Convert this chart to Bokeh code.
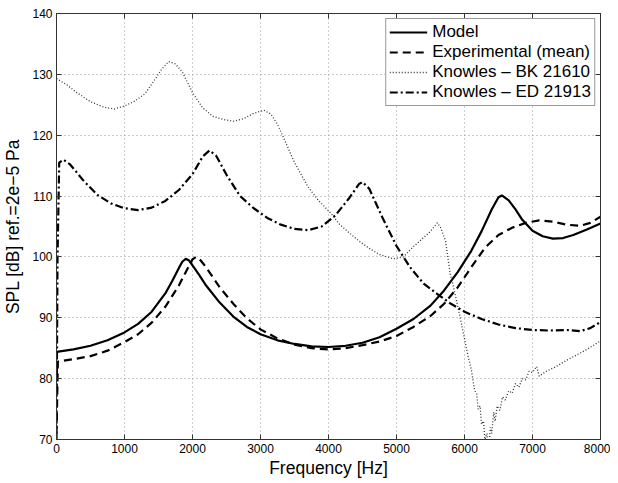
from bokeh.plotting import figure
from bokeh.models import LinearAxis, Range1d, FixedTicker, Legend, CustomJSTickFormatter
from bokeh.embed import file_html
from bokeh.resources import INLINE

# ---- data ----
model_f = [0, 250, 500, 750, 1000, 1200, 1400, 1600, 1700, 1800, 1850, 1900, 1950, 2000, 2100, 2200,
           2400, 2600, 2800, 3000, 3250, 3500, 3750, 4000, 4250, 4500, 4750, 5000, 5250, 5500, 5700,
           5900, 6100, 6250, 6400, 6500, 6550, 6650, 6750, 6850, 7000, 7150, 7300, 7450, 7600, 7800, 8000]
model_db = [84.4, 84.8, 85.4, 86.3, 87.6, 89.0, 91.0, 94.0, 96.0, 98.2, 99.2, 99.7, 99.4, 98.6, 97.0, 95.3,
            92.5, 90.2, 88.5, 87.3, 86.3, 85.7, 85.3, 85.2, 85.4, 85.9, 86.8, 88.2, 89.8, 92.0, 94.5,
            97.5, 101.0, 104.2, 107.8, 109.8, 110.1, 109.3, 107.8, 106.1, 104.3, 103.4, 103.0, 103.1, 103.6, 104.5, 105.5]

exp_f = [0, 20, 250, 500, 750, 1000, 1200, 1400, 1600, 1800, 1900, 2000, 2050, 2100, 2200, 2400, 2600,
         2800, 3000, 3250, 3500, 3750, 4000, 4250, 4500, 4750, 5000, 5250, 5500, 5700, 5900, 6100, 6300,
         6500, 6700, 6900, 7100, 7300, 7500, 7700, 7850, 8000]
exp_db = [71.0, 82.8, 83.2, 83.7, 84.6, 86.0, 87.3, 89.2, 91.8, 95.3, 97.5, 99.6, 100.0, 99.7, 98.3, 95.0, 92.3,
          89.9, 88.1, 86.6, 85.6, 85.0, 84.8, 85.0, 85.5, 86.1, 87.0, 88.5, 90.3, 92.3, 95.0, 98.3, 101.5,
          103.6, 104.8, 105.6, 106.0, 105.8, 105.3, 105.1, 105.6, 106.6]

bk_f = [0, 150, 300, 500, 700, 850, 1000, 1150, 1300, 1450, 1550, 1650, 1750, 1850, 2000, 2150, 2300, 2450,
        2600, 2750, 2900, 3050, 3150, 3250, 3350, 3500, 3700, 3850, 4050, 4150, 4300, 4450, 4600, 4750,
        4950, 5100, 5250, 5400, 5500, 5600, 5650, 5720, 5790, 5840, 5935, 6050, 6100, 6150, 6180, 6200,
        6230, 6250, 6280, 6300, 6330, 6360, 6380, 6400, 6430, 6450, 6480, 6520, 6560, 6600, 6650, 6700,
        6750, 6800, 6850, 6900, 6950, 7000, 7060, 7100, 7200, 7350, 7500, 7650, 7800, 8000]
bk_db = [129.3, 128.3, 127.0, 125.5, 124.6, 124.3, 124.8, 125.6, 126.8, 129.2, 130.9, 132.1, 131.7, 130.4,
         127.0, 124.5, 123.1, 122.6, 122.3, 122.7, 123.6, 124.1, 123.5, 121.8, 119.3, 115.5, 111.5, 109.3,
         107.0, 105.5, 104.0, 102.6, 101.4, 100.4, 99.7, 100.0, 101.7, 103.2, 104.2, 105.6, 104.8, 102.7,
         97.2, 95.0, 90.1, 83.8, 81.5, 78.0, 77.5, 75.0, 75.5, 72.5, 73.0, 70.0, 71.0, 68.5, 72.0, 71.0,
         74.5, 73.0, 75.5, 74.8, 77.0, 76.5, 78.0, 77.6, 79.2, 78.6, 80.0, 79.8, 81.2, 81.0, 82.0, 80.4,
         81.2, 82.0, 83.0, 83.9, 84.8, 86.2]

ed_f = [0, 15, 40, 100, 200, 400, 600, 800, 1000, 1200, 1400, 1600, 1800, 2000, 2150, 2250, 2350, 2500,
        2700, 2900, 3100, 3300, 3500, 3700, 3900, 4100, 4300, 4450, 4500, 4600, 4800, 5000, 5200, 5400,
        5600, 5800, 6000, 6250, 6500, 6750, 7000, 7250, 7500, 7700, 7850, 8000]
ed_db = [70.0, 100.0, 115.5, 116.0, 115.2, 112.5, 110.2, 108.8, 108.0, 107.7, 108.1, 109.2, 111.0, 113.6,
         116.5, 117.5, 116.6, 113.5, 110.0, 108.0, 106.4, 105.3, 104.6, 104.4, 105.0, 106.8, 109.6, 112.0,
         112.3, 111.2, 106.3, 101.8, 98.3, 95.6, 93.9, 92.3, 91.0, 89.8, 88.9, 88.3, 88.0, 87.9, 88.0, 87.8,
         88.3, 89.3]

x_ticks = [0, 1000, 2000, 3000, 4000, 5000, 6000, 7000, 8000]
y_ticks = [70, 80, 90, 100, 110, 120, 130, 140]

FONT = "Liberation Sans"

p = figure(frame_width=544, frame_height=426, output_backend="svg", toolbar_location=None,
           x_range=Range1d(0, 8000), y_range=Range1d(70, 140),
           min_border_left=10, min_border_top=13, min_border_right=10, min_border_bottom=5)

p.background_fill_color = "white"
p.outline_line_color = "#333333"

l_exp = p.line(exp_f, exp_db, line_color="black", line_width=2.2, line_dash="8 5")
l_model = p.line(model_f, model_db, line_color="black", line_width=2.2)
l_bk = p.line(bk_f, bk_db, line_color="#333333", line_width=1.3, line_dash="1 2")
l_ed = p.line(ed_f, ed_db, line_color="black", line_width=2.2, line_dash="8 3 2 3")

for ax in (p.xaxis[0], p.yaxis[0]):
    ax.major_tick_in = 5
    ax.major_tick_out = 0
    ax.minor_tick_line_color = None
    ax.axis_line_color = "#333333"
    ax.major_tick_line_color = "#333333"
    ax.major_label_text_font = FONT
    ax.major_label_text_font_size = "12px"
    ax.major_label_text_color = "black"
    ax.axis_label_text_font = FONT
    ax.axis_label_text_font_size = "17.5px"
    ax.axis_label_text_font_style = "normal"
    ax.axis_label_text_color = "black"

p.xaxis[0].ticker = FixedTicker(ticks=x_ticks)
p.yaxis[0].ticker = FixedTicker(ticks=y_ticks)
p.xaxis[0].axis_label = "Frequency [Hz]"
p.yaxis[0].axis_label = "SPL [dB] ref.=2e\u22125 Pa"
p.xaxis[0].axis_label_standoff = 2
p.yaxis[0].axis_label_standoff = 6
p.xaxis[0].major_label_standoff = 4
p.yaxis[0].major_label_standoff = 4

for loc, ticks in (("above", x_ticks), ("right", y_ticks)):
    ax = LinearAxis(ticker=FixedTicker(ticks=ticks),
                    formatter=CustomJSTickFormatter(code="return ''"))
    ax.major_tick_in = 5
    ax.major_tick_out = 0
    ax.minor_tick_line_color = None
    ax.axis_line_color = "#333333"
    ax.major_tick_line_color = "#333333"
    ax.major_label_standoff = 0
    p.add_layout(ax, loc)

p.xgrid.ticker = FixedTicker(ticks=x_ticks)
p.ygrid.ticker = FixedTicker(ticks=y_ticks)
for g in (p.xgrid[0], p.ygrid[0]):
    g.grid_line_color = "#999999"
    g.grid_line_dash = "1 3"
    g.grid_line_width = 1

legend = Legend(items=[("Model", [l_model]), ("Experimental (mean)", [l_exp]),
                       ("Knowles \u2013 BK 21610", [l_bk]), ("Knowles \u2013 ED 21913", [l_ed])],
                location="top_right")
legend.margin = 5
legend.padding = 3
legend.spacing = 0
legend.label_height = 20
legend.glyph_height = 20
legend.glyph_width = 38
legend.label_standoff = 5
legend.label_text_font = FONT
legend.label_text_font_size = "17px"
legend.label_text_color = "black"
legend.border_line_color = "#333333"
legend.border_line_width = 1
legend.background_fill_alpha = 1
p.add_layout(legend, "center")

open("out.html", "w").write(file_html(p, INLINE))
